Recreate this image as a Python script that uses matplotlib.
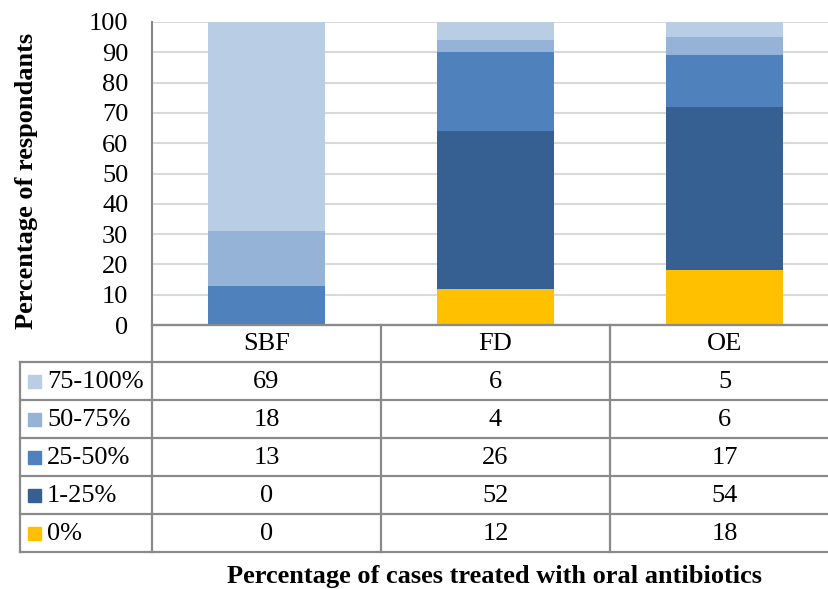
import matplotlib
matplotlib.use("Agg")
import matplotlib.pyplot as plt
from matplotlib.patches import Rectangle
import numpy as np

plt.rcParams['font.family'] = ['Liberation Serif', 'DejaVu Serif']

categories = ["SBF", "FD", "OE"]
series_labels = ["75-100%", "50-75%", "25-50%", "1-25%", "0%"]
v_75_100 = [69, 6, 5]
v_50_75 = [18, 4, 6]
v_25_50 = [13, 26, 17]
v_1_25 = [0, 52, 54]
v_0 = [0, 12, 18]
series_values = [v_75_100, v_50_75, v_25_50, v_1_25, v_0]
colors = ["#B9CDE5", "#95B3D7", "#4F81BD", "#376092", "#FFC000"]
yticks = [0, 10, 20, 30, 40, 50, 60, 70, 80, 90, 100]

FS = 19
W, H = 829, 589
fig = plt.figure(figsize=(W / 100, H / 100), dpi=100)

# the chart area extends slightly beyond the right edge of the picture (cropped)
ax_l, ax_r, ax_t, ax_b = 152, 839, 22, 325
ax = fig.add_axes([ax_l / W, 1 - ax_b / H, (ax_r - ax_l) / W, (ax_b - ax_t) / H])

x = np.arange(len(categories))
bottom = np.zeros(len(categories))
# stack from bottom: 0%, 1-25%, 25-50%, 50-75%, 75-100%
for lab, vals, col in reversed(list(zip(series_labels, series_values, colors))):
    vals = np.array(vals, dtype=float)
    ax.bar(x, vals, bottom=bottom, width=0.511, color=col, zorder=3, label=lab)
    bottom += vals

ax.set_xlim(-0.5, len(categories) - 0.5)
ax.set_ylim(0, 100)
ax.set_yticks(yticks)
ax.set_yticklabels([str(t) for t in yticks], fontsize=FS)
ax.tick_params(axis='y', length=0, pad=17)
ax.set_xticks([])
ax.grid(axis='y', color='#D9D9D9', linewidth=1.5, zorder=0)
for s in ['top', 'right']:
    ax.spines[s].set_visible(False)
ax.spines['left'].set_color('#868686')
ax.spines['left'].set_linewidth(1.5)
ax.spines['bottom'].set_color('#868686')
ax.spines['bottom'].set_linewidth(1.5)
ax.set_ylabel("Percentage of respondants", fontsize=FS, fontweight='bold')
ax.yaxis.set_label_coords((38 - ax_l) / (ax_r - ax_l), (ax_b - 181) / (ax_b - ax_t))

# Overlay axes in pixel coords for the data table
ov = fig.add_axes([0, 0, 1, 1])
ov.set_xlim(0, W)
ov.set_ylim(H, 0)
ov.axis('off')

lc = '#8A8A8A'
lw = 1.6
col_edges = [ax_l, 381, 610, ax_r]
row_edges = [325, 362, 400, 438, 476, 514, 552]
leg_left = 20

# horizontal lines
ov.plot([ax_l, ax_r], [row_edges[0]] * 2, color=lc, lw=lw)
for ry in row_edges[1:]:
    ov.plot([leg_left, ax_r], [ry, ry], color=lc, lw=lw)
# vertical lines
for cx in col_edges:
    ov.plot([cx, cx], [row_edges[0], row_edges[-1]], color=lc, lw=lw)
ov.plot([leg_left, leg_left], [row_edges[1], row_edges[-1]], color=lc, lw=lw)

# header
for i, cat in enumerate(categories):
    cx = (col_edges[i] + col_edges[i + 1]) / 2
    ov.text(cx, (row_edges[0] + row_edges[1]) / 2 + 1, cat, ha='center', va='center', fontsize=FS)

for r, (lab, vals, col) in enumerate(zip(series_labels, series_values, colors)):
    cy = (row_edges[r + 1] + row_edges[r + 2]) / 2 + 1
    ov.add_patch(Rectangle((28, cy - 7.5), 13, 13, color=col))
    ov.text(47, cy, lab, ha='left', va='center', fontsize=FS)
    for i, v in enumerate(vals):
        cx = (col_edges[i] + col_edges[i + 1]) / 2
        ov.text(cx, cy, str(v), ha='center', va='center', fontsize=FS)

ov.text(495, 577, "Percentage of cases treated with oral antibiotics",
        ha='center', va='center', fontsize=FS, fontweight='bold')

fig.savefig("out.png", dpi=100)
